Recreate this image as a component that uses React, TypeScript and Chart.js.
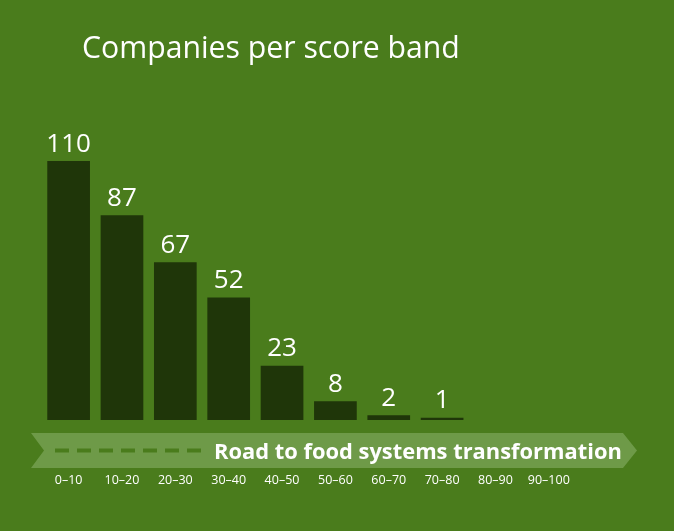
import React, { useEffect, useRef } from "react";
import { Chart, registerables } from "chart.js";

Chart.register(...registerables);

const categories = ["0–10", "10–20", "20–30", "30–40", "40–50", "50–60", "60–70", "70–80", "80–90", "90–100"];
const companyCounts = [110, 87, 67, 52, 23, 8, 2, 1, 0, 0];
const titleText = "Companies per score band";
const roadText = "Road to food systems transformation";

const BG = "#4a7c1c";
const BAR = "#1f3609";
const BAND = "#6e9a48";
const FAMILY = "'Open Sans', 'DejaVu Sans', sans-serif";

function fitSize(ctx: CanvasRenderingContext2D, text: string, weight: string, width: number) {
  ctx.font = `${weight} 100px ${FAMILY}`;
  const w = ctx.measureText(text).width;
  return (100 * width) / w;
}

const decorPlugin = {
  id: "decor",
  afterDraw(chart: any) {
    const ctx: CanvasRenderingContext2D = chart.ctx;
    const area = chart.chartArea;
    ctx.save();
    // title
    const ts = fitSize(ctx, titleText, "500", 378);
    ctx.font = `500 ${ts}px ${FAMILY}`;
    ctx.fillStyle = "#ffffff";
    ctx.textAlign = "left";
    ctx.textBaseline = "alphabetic";
    ctx.fillText(titleText, 82, 58);

    // value labels
    const meta = chart.getDatasetMeta(0);
    ctx.textAlign = "center";
    ctx.font = `500 26px ${FAMILY}`;
    meta.data.forEach((bar: any, i: number) => {
      const v = companyCounts[i];
      if (!v) return;
      ctx.fillText(String(v), bar.x, bar.y - 9.5);
    });

    // road band
    const top = area.bottom + 13;
    const bot = area.bottom + 48;
    const mid = (top + bot) / 2;
    ctx.fillStyle = BAND;
    ctx.beginPath();
    ctx.moveTo(31, top);
    ctx.lineTo(623, top);
    ctx.lineTo(637, mid);
    ctx.lineTo(623, bot);
    ctx.lineTo(31, bot);
    ctx.lineTo(44, mid);
    ctx.closePath();
    ctx.fill();

    ctx.strokeStyle = BG;
    ctx.lineWidth = 4;
    ctx.setLineDash([14, 8]);
    ctx.beginPath();
    ctx.moveTo(55, mid);
    ctx.lineTo(207, mid);
    ctx.stroke();
    ctx.setLineDash([]);

    const rs = fitSize(ctx, roadText, "bold", 408);
    ctx.font = `bold ${rs}px ${FAMILY}`;
    ctx.fillStyle = "#ffffff";
    ctx.textAlign = "left";
    ctx.fillText(roadText, 214, mid + 8.5);
    ctx.restore();
  },
};

export default function App() {
  const ref = useRef<HTMLCanvasElement>(null);
  useEffect(() => {
    document.body.style.margin = "0";
    const chart = new Chart(ref.current!, {
      type: "bar",
      data: {
        labels: categories,
        datasets: [
          {
            data: companyCounts,
            backgroundColor: BAR,
            borderWidth: 0,
            barPercentage: 0.8,
            categoryPercentage: 1,
          },
        ],
      },
      options: {
        responsive: false,
        animation: false,
        devicePixelRatio: 1,
        layout: { padding: { left: 35.5, right: 98.5, top: 161, bottom: 42.6 } },
        plugins: { legend: { display: false }, tooltip: { enabled: false }, title: { display: false } },
        scales: {
          y: { display: false, min: 0, max: 110 },
          x: {
            grid: { display: false, drawTicks: false },
            border: { display: false },
            afterFit: (scale: any) => {
              scale.height = 68.4;
            },
            ticks: {
              color: "#ffffff",
              padding: 53,
              font: { family: FAMILY, size: 12.5, weight: "500" },
              maxRotation: 0,
              autoSkip: false,
            },
          },
        },
      },
      plugins: [decorPlugin],
    });
    return () => chart.destroy();
  }, []);
  return (
    <div style={{ position: "absolute", left: 0, top: 0, width: 674, height: 531, background: BG }}>
      <canvas ref={ref} width={674} height={531} />
    </div>
  );
}
